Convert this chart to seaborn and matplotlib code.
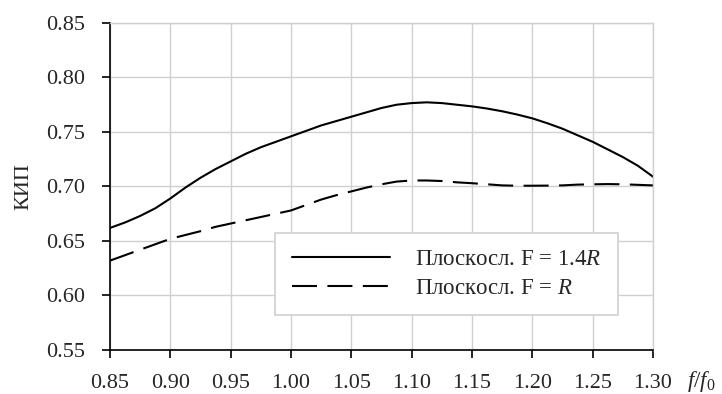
import matplotlib
matplotlib.use("Agg")
import matplotlib.pyplot as plt
import seaborn as sns
import pandas as pd

# Relative frequency f/f0
freq = [0.85, 0.8625, 0.875, 0.8875, 0.90, 0.9125, 0.925, 0.9375, 0.95, 0.9625,
        0.975, 0.9875, 1.00, 1.0125, 1.025, 1.0375, 1.05, 1.0625, 1.075, 1.0875,
        1.10, 1.1125, 1.125, 1.1375, 1.15, 1.1625, 1.175, 1.1875, 1.20, 1.2125,
        1.225, 1.2375, 1.25, 1.2625, 1.275, 1.2875, 1.30]
# Aperture efficiency, planar-convex lens F = 1.4R
kip_f14 = [0.662, 0.667, 0.673, 0.680, 0.689, 0.699, 0.708, 0.716, 0.723, 0.730,
           0.736, 0.741, 0.746, 0.751, 0.756, 0.760, 0.764, 0.768, 0.772, 0.775,
           0.7765, 0.7772, 0.7765, 0.775, 0.7735, 0.7715, 0.769, 0.766, 0.7625, 0.758,
           0.753, 0.747, 0.741, 0.734, 0.727, 0.719, 0.709]
# Aperture efficiency, planar-convex lens F = R
kip_f10 = [0.632, 0.637, 0.642, 0.647, 0.652, 0.6555, 0.659, 0.663, 0.666, 0.669,
           0.672, 0.675, 0.678, 0.683, 0.688, 0.692, 0.6955, 0.699, 0.702, 0.7045,
           0.7055, 0.7055, 0.705, 0.7038, 0.703, 0.702, 0.701, 0.7007, 0.7007, 0.7008,
           0.701, 0.7017, 0.702, 0.7022, 0.702, 0.7015, 0.701]

labels = ["Плоскосл. F = 1.4$\\mathit{R}$", "Плоскосл. F = $\\mathit{R}$"]
xticks = [0.85, 0.90, 0.95, 1.00, 1.05, 1.10, 1.15, 1.20, 1.25, 1.30]
yticks = [0.55, 0.60, 0.65, 0.70, 0.75, 0.80, 0.85]

df = pd.DataFrame({
    "f": freq * 2,
    "kip": kip_f14 + kip_f10,
    "series": [labels[0]] * len(freq) + [labels[1]] * len(freq),
})

sns.set_theme(style="white")
plt.rcParams["font.family"] = ["Liberation Serif", "DejaVu Serif"]
plt.rcParams["mathtext.fontset"] = "custom"
plt.rcParams["mathtext.rm"] = "Liberation Serif"
plt.rcParams["mathtext.it"] = "Liberation Serif:italic"

fig = plt.figure(figsize=(7.22, 3.94), dpi=100)
ax = fig.add_axes([0.1524, 0.1117, 0.752, 0.83])

sns.lineplot(data=df, x="f", y="kip", hue="series", style="series",
             palette=["black", "black"], dashes=["", (12, 5)],
             linewidth=1.5, ax=ax, legend=True)

ax.set_xlim(0.85, 1.30)
ax.set_ylim(0.55, 0.85)
ax.set_xticks(xticks)
ax.set_yticks(yticks)
ax.set_xticklabels([f"{v:.2f}" for v in xticks], fontsize=16)
ax.set_yticklabels([f"{v:.2f}" for v in yticks], fontsize=16)
ax.tick_params(axis="both", direction="out", length=6, width=1.2, color="black",
               bottom=True, left=True)
ax.tick_params(axis="x", pad=11)
ax.tick_params(axis="y", pad=12)

ax.grid(True, color="#d0d0d0", linewidth=1.0)
ax.set_axisbelow(True)
for side in ["top", "right"]:
    ax.spines[side].set_color("#d0d0d0")
    ax.spines[side].set_linewidth(1.0)
for side in ["left", "bottom"]:
    ax.spines[side].set_color("black")
    ax.spines[side].set_linewidth(1.2)

ax.set_xlabel("")
ax.set_ylabel("")
ax.text(-0.158, 0.5, "КИП", transform=ax.transAxes, fontsize=16,
        rotation=90, ha="center", va="center")
ax.text(1.088, -0.097, "$\\mathit{f/f}_{\\mathit{0}}$", transform=ax.transAxes,
        fontsize=16.5, ha="center", va="center")

leg = ax.legend(loc="upper right", bbox_to_anchor=(0.936, 0.358), borderaxespad=0,
                fontsize=16.5, frameon=True, fancybox=False, framealpha=1,
                edgecolor="#d0d0d0", handlelength=4.3, handletextpad=1.1,
                borderpad=0.72, labelspacing=0.32)
leg.get_frame().set_linewidth(1.2)

fig.savefig("out.png", dpi=100)
